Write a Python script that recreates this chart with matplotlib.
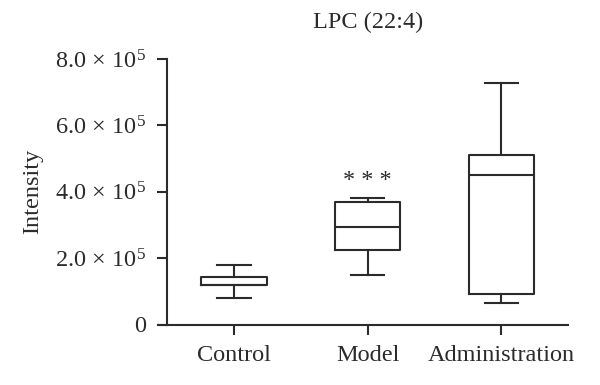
import matplotlib
matplotlib.use("Agg")
from matplotlib import pyplot as plt
from matplotlib.ticker import FuncFormatter

plt.rcParams["font.family"] = ["Liberation Serif", "DejaVu Serif"]
plt.rcParams["mathtext.fontset"] = "custom"
plt.rcParams["mathtext.rm"] = "Liberation Serif"
plt.rcParams["mathtext.it"] = "Liberation Serif:italic"

groups = ["Control", "Model", "Administration"]
whislo = [0.81e5, 1.48e5, 0.64e5]
q1 = [1.19e5, 2.25e5, 0.92e5]
med = [1.19e5, 2.93e5, 4.49e5]
q3 = [1.43e5, 3.68e5, 5.10e5]
whishi = [1.79e5, 3.82e5, 7.28e5]
yticks = [0, 2e5, 4e5, 6e5, 8e5]

INK = "#2b2b2b"
LW = 1.5
FS = 17.5

stats = [
    dict(label=g, whislo=a, q1=b, med=c, q3=d, whishi=e, fliers=[])
    for g, a, b, c, d, e in zip(groups, whislo, q1, med, q3, whishi)
]

fig = plt.figure(figsize=(6, 3.85), dpi=100)
ax = fig.add_axes([158 / 600, 1 - 324.5 / 385, 410 / 600, 265.5 / 385])

line = dict(color=INK, linewidth=LW)
ax.bxp(
    stats,
    positions=[1, 2, 3],
    widths=0.49,
    capwidths=0.25,
    boxprops=line,
    whiskerprops=line,
    capprops=line,
    medianprops=line,
    showfliers=False,
)

ax.set_xlim(0.43, 3.5)
ax.set_ylim(0, 8e5)
ax.set_xticks([1, 2, 3])
ax.set_xticklabels(groups, fontsize=FS, color=INK)
ax.set_yticks(yticks)


def fmt(v, pos):
    if v == 0:
        return "0"
    return r"$%.1f\,\times\,10^{5}$" % (v / 1e5)


ax.yaxis.set_major_formatter(FuncFormatter(fmt))
ax.tick_params(axis="y", labelsize=FS, length=7, width=LW, color=INK, labelcolor=INK, pad=8)
ax.tick_params(axis="x", length=7, width=LW, color=INK, pad=8)

for s in ["top", "right"]:
    ax.spines[s].set_visible(False)
ax.spines["left"].set_position(("data", 0.498))
ax.spines["left"].set_bounds(0, 8e5)
for s in ["left", "bottom"]:
    ax.spines[s].set_linewidth(LW)
    ax.spines[s].set_color(INK)

ax.set_ylabel("Intensity", fontsize=FS, color=INK)
ax.yaxis.set_label_coords(-0.28, 0.5)
ax.text(2, 9.1e5, "LPC (22:4)", ha="center", va="center", fontsize=FS, color=INK)
ax.text(2, 4.17e5, "* * *", ha="center", va="baseline", fontsize=FS, color=INK)

fig.savefig("out.png", dpi=100)
